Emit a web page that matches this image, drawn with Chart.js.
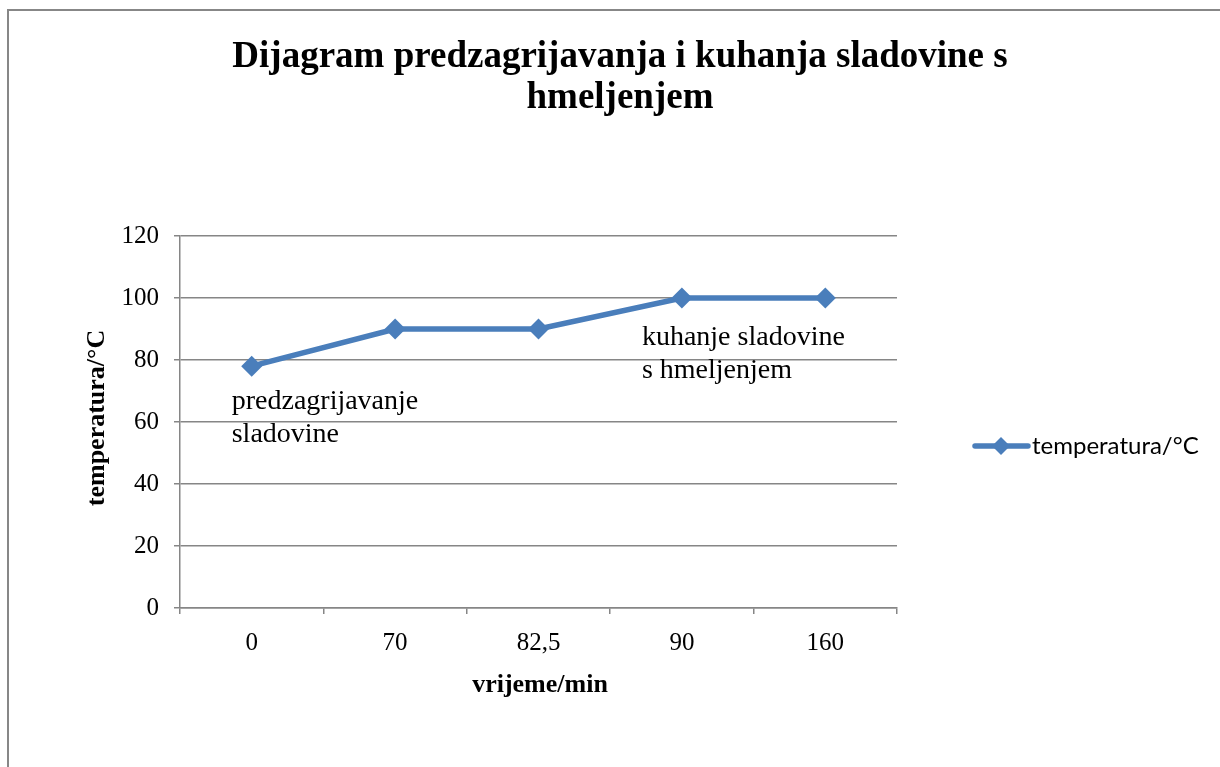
<!DOCTYPE html>
<html>
<head>
    <title>Dijagram predzagrijavanja i kuhanja sladovine</title>
    <script src="https://cdn.jsdelivr.net/npm/chart.js@4"></script>
    <style>
        body { margin: 0; background: #fff; }
        canvas { display: block; }
    </style>
</head>
<body>
    <canvas id="wortChart" width="1220" height="767"></canvas>

    <script>
        // data
        var timeLabels = ['0', '70', '82,5', '90', '160'];
        var temperatures = [78, 90, 90, 100, 100];
        var seriesName = 'temperatura/°C';
        var titleLines = ['Dijagram predzagrijavanja i kuhanja sladovine s', 'hmeljenjem'];
        var notes = [
            { index: 0, lines: ['predzagrijavanje', 'sladovine'] },
            { index: 3, lines: ['kuhanje sladovine', 's hmeljenjem'] }
        ];

        var lineBlue = '#4A7EBB';
        var gridGrey = '#868686';
        var serif = '"Liberation Serif", "Times New Roman", serif';

        var decorations = {
            id: 'decorations',
            beforeDraw: function(chart) {
                var ctx = chart.ctx;
                ctx.save();
                ctx.fillStyle = '#fff';
                ctx.fillRect(0, 0, chart.width, chart.height);
                ctx.restore();
            },
            afterDraw: function(chart) {
                var ctx = chart.ctx;
                var xs = chart.scales.x, ys = chart.scales.y;
                ctx.save();

                // outer frame (only top and left show in the picture)
                ctx.strokeStyle = '#878787';
                ctx.lineWidth = 2;
                ctx.beginPath();
                ctx.moveTo(8, chart.height);
                ctx.lineTo(8, 10);
                ctx.lineTo(chart.width, 10);
                ctx.stroke();

                // title
                ctx.fillStyle = '#000';
                ctx.textAlign = 'center';
                ctx.textBaseline = 'alphabetic';
                ctx.font = 'bold 37px ' + serif;
                ctx.fillText(titleLines[0], 620, 67);
                ctx.fillText(titleLines[1], 620, 108);

                // axis titles
                ctx.font = 'bold 26px ' + serif;
                ctx.textBaseline = 'middle';
                ctx.fillText('vrijeme/min', 540, 685);
                ctx.save();
                ctx.translate(97, 418);
                ctx.rotate(-Math.PI / 2);
                ctx.fillText('temperatura/°C', 0, 0);
                ctx.restore();

                // notes beside the points
                ctx.font = '28px ' + serif;
                ctx.textAlign = 'left';
                ctx.textBaseline = 'alphabetic';
                notes.forEach(function(n, k) {
                    var px = xs.getPixelForValue(n.index);
                    var py = ys.getPixelForValue(temperatures[n.index]);
                    var x = k === 0 ? px - 20 : px - 40;
                    var y = k === 0 ? py + 43 : py + 47;
                    n.lines.forEach(function(t, i) {
                        ctx.fillText(t, x, y + i * 33);
                    });
                });

                // legend
                var ly = 446;
                ctx.strokeStyle = lineBlue;
                ctx.lineWidth = 5.5;
                ctx.lineCap = 'round';
                ctx.beginPath();
                ctx.moveTo(975, ly);
                ctx.lineTo(1028, ly);
                ctx.stroke();
                ctx.fillStyle = lineBlue;
                ctx.beginPath();
                ctx.moveTo(1001, ly - 9);
                ctx.lineTo(1010, ly);
                ctx.lineTo(1001, ly + 9);
                ctx.lineTo(992, ly);
                ctx.closePath();
                ctx.fill();
                ctx.fillStyle = '#000';
                ctx.font = '24px Lato, "Open Sans", sans-serif';
                ctx.textBaseline = 'middle';
                ctx.fillText(seriesName, 1032, ly);

                ctx.restore();
            }
        };

        var ctx = document.getElementById('wortChart').getContext('2d');
        var wortChart = new Chart(ctx, {
            type: 'line',
            data: {
                labels: timeLabels,
                datasets: [{
                    label: seriesName,
                    data: temperatures,
                    borderColor: lineBlue,
                    backgroundColor: lineBlue,
                    borderWidth: 5.5,
                    tension: 0,
                    pointStyle: 'rectRot',
                    pointRadius: 10.5,
                    pointHoverRadius: 10.5,
                    pointBorderWidth: 0,
                    pointBackgroundColor: lineBlue
                }]
            },
            options: {
                responsive: false,
                animation: false,
                events: [],
                layout: {
                    padding: { left: 0, top: 236, right: 323, bottom: 59 }
                },
                plugins: {
                    legend: { display: false },
                    title: { display: false },
                    tooltip: { enabled: false }
                },
                scales: {
                    x: {
                        offset: true,
                        grid: {
                            offset: true,
                            drawOnChartArea: false,
                            drawTicks: true,
                            tickLength: 6,
                            lineWidth: 1.5,
                            color: gridGrey
                        },
                        border: { display: true, color: gridGrey, width: 1.5 },
                        ticks: {
                            color: '#000',
                            padding: 14,
                            font: { family: serif, size: 25 }
                        },
                        afterFit: function(scale) { scale.height = 100; }
                    },
                    y: {
                        min: 0,
                        max: 120,
                        grid: {
                            color: gridGrey,
                            lineWidth: 1.5,
                            tickLength: 6
                        },
                        border: { display: true, color: gridGrey, width: 1.5 },
                        ticks: {
                            stepSize: 20,
                            color: '#000',
                            padding: 15,
                            font: { family: serif, size: 25 }
                        },
                        afterFit: function(scale) { scale.width = 180; }
                    }
                }
            },
            plugins: [decorations]
        });
    </script>
</body>
</html>
